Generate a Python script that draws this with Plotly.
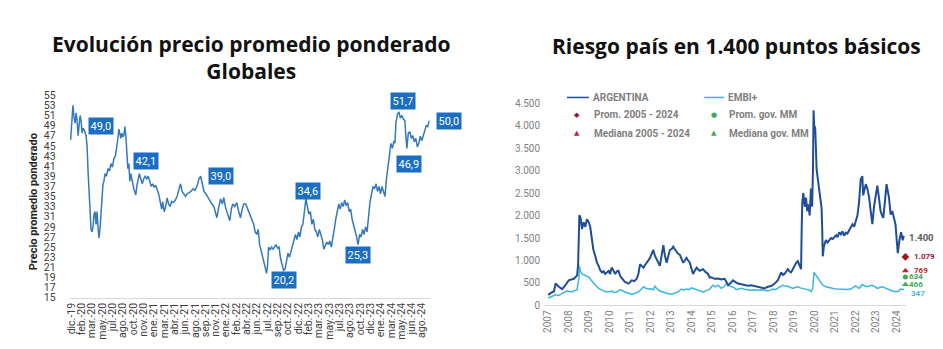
import plotly.graph_objects as go

# ---------------- LEFT CHART DATA (Globales, precio promedio ponderado) ----------------
left_tick_labels = ["dic.-19", "feb.-20", "mar.-20", "may.-20", "jul.-20", "ago.-20", "oct.-20",
                    "nov.-20", "ene.-21", "mar.-21", "abr.-21", "jun.-21", "ago.-21", "sep.-21",
                    "nov.-21", "ene.-22", "feb.-22", "abr.-22", "jun.-22", "jul.-22", "sep.-22",
                    "oct.-22", "dic.-22", "feb.-23", "mar.-23", "may.-23", "jul.-23", "ago.-23",
                    "oct.-23", "dic.-23", "ene.-24", "mar.-24", "may.-24", "jun.-24", "ago.-24"]

# observation index (trading-day like scale)
obs = [0, 1, 2.3, 3.5, 4.5, 5.5, 6.5, 7.5, 8.5, 9.5, 10.5, 11.5, 12.5, 14, 15.5, 16.5, 17.5, 18.5,
       19.5, 20.5, 21.5, 22.5, 23.5, 24.5, 25.5, 26.5, 27.5, 28.5, 29.5, 30.5, 31.5, 32.5, 33.5,
       34.5, 36, 37.5, 39, 40.5, 42, 43.5, 45, 46.5, 47.5, 48.5, 49.5, 50.5, 51.5, 52.5, 53.5,
       54.5, 55.5, 56.5, 57.5, 58.5, 59.5, 60.5, 61.5, 62.5, 63.5, 64.5, 65.5, 66.5, 67.5, 69,
       70.5, 72, 73.5, 75, 76.5, 78, 79.5, 81, 82.5, 84, 85.5, 87, 88.5, 90, 91.5, 92.5, 94, 95.5,
       97, 98.5, 100, 101.5, 103, 105, 107, 109, 110.5, 112, 114, 115.5, 117, 119, 121, 123, 125,
       127, 129, 130.7, 132, 134, 136, 138, 140, 142, 144, 145.5, 147, 148.5, 150.7, 152.5, 154,
       155.5, 157, 158.5, 160, 161.5, 163, 165, 167, 169, 170.7, 172.5, 174, 176, 178, 180, 182,
       184, 185.5, 187, 188.5, 190, 191.5, 193, 194.5, 196, 197, 198, 199, 200.5, 202, 203.5, 205,
       206.5, 208, 209.5, 211, 212.5, 214, 215.5, 217, 218.5, 220, 221.5, 223, 224.5, 226, 227.5,
       229, 230.5, 232, 233.5, 235, 236.5, 238, 239.5, 241, 242.5, 244, 245.5, 247, 248.5, 250,
       251.5, 253, 254.5, 256, 257.5, 259, 260.5, 262, 263.5, 265, 266.5, 268, 269.5, 271, 272.5,
       274, 275.5, 277, 278.5, 280, 281.5, 283, 284.5, 286, 287.5, 289, 290.5, 292, 293.5, 295,
       296.5, 298, 299.5, 301, 302.5, 304, 305.5, 307, 308.5, 310, 311.5, 313, 314.5, 316, 317.5,
       319, 320.5, 322, 323.5, 325, 326, 327, 328.5, 330, 331.5, 333, 334.5, 336, 337, 338, 339.5,
       341, 342.5, 344, 345.5, 347, 348.5, 350, 351.5, 353, 354.5, 356, 357.5, 359, 360.5]

price = [46.2, 50.0, 53.0, 50.5, 49.5, 51.5, 50.0, 47.0, 49.5, 51.0, 50.0, 47.5, 48.5, 48.0, 47.0,
         45.0, 40.0, 35.0, 30.0, 28.5, 28.0, 29.0, 31.5, 32.0, 29.5, 32.0, 29.0, 26.8, 28.5, 32.0,
         35.5, 37.5, 38.0, 39.5, 39.0, 40.5, 40.0, 41.5, 40.8, 42.5, 43.0, 44.8, 46.5, 48.3, 47.0,
         46.5, 47.5, 46.8, 47.0, 48.8, 47.0, 44.0, 40.5, 41.5, 38.0, 39.5, 38.0, 37.5, 36.5, 35.8,
         35.3, 37.0, 38.0, 39.5, 38.5, 37.5, 38.5, 39.0, 38.5, 39.0, 38.0, 37.0, 37.5, 36.8, 37.2,
         36.5, 35.5, 34.0, 32.5, 34.0, 32.0, 33.0, 34.7, 33.5, 33.0, 34.0, 33.8, 34.2, 35.0, 36.5,
         37.5, 36.0, 35.5, 35.0, 35.5, 35.8, 36.0, 36.5, 36.2, 37.0, 38.5, 39.0, 37.5, 36.0, 35.5,
         34.8, 34.0, 33.5, 33.0, 31.8, 30.8, 32.5, 34.5, 33.5, 34.8, 33.0, 32.2, 31.0, 30.2, 32.5,
         33.5, 33.0, 33.8, 32.0, 30.8, 32.5, 33.5, 33.5, 32.5, 31.8, 30.5, 29.5, 28.0, 27.5, 28.5,
         25.5, 24.3, 23.0, 21.8, 20.8, 19.8, 21.5, 25.0, 24.5, 25.0, 24.6, 25.2, 25.5, 24.8, 25.0,
         22.8, 21.5, 20.4, 20.6, 22.5, 23.8, 23.0, 24.0, 25.5, 26.5, 27.5, 26.5, 28.0, 27.0, 29.0,
         29.5, 32.0, 34.6, 33.0, 31.5, 32.0, 29.5, 30.5, 28.5, 28.0, 27.0, 28.5, 27.5, 26.5, 24.6,
         25.5, 26.0, 25.5, 26.2, 25.0, 26.5, 28.5, 30.5, 32.0, 33.5, 32.5, 33.8, 33.0, 34.3, 33.2,
         33.8, 32.0, 32.5, 30.5, 29.5, 28.0, 27.0, 25.5, 27.5, 27.0, 28.5, 27.5, 29.0, 28.0, 31.5,
         34.0, 35.5, 37.0, 36.5, 37.5, 36.0, 37.0, 35.5, 37.0, 36.0, 35.0, 38.5, 41.0, 42.5, 45.5,
         44.5, 46.0, 45.5, 49.5, 51.2, 51.7, 50.5, 51.0, 50.3, 50.0, 47.0, 44.5, 47.5, 47.8, 46.5,
         47.0, 45.8, 46.5, 44.8, 45.5, 46.9, 46.0, 47.0, 48.0, 49.0, 48.8, 50.0]

# highlighted values on the left chart
callout_text = ["49,0", "42,1", "39,0", "20,2", "34,6", "25,3", "51,7", "46,9", "50,0"]
callout_value = [49.0, 42.1, 39.0, 20.2, 34.6, 25.3, 51.7, 46.9, 50.0]
callout_obs = [30.7, 75.5, 151.5, 214.5, 238.5, 288.5, 334, 340, 360.5]
callout_shift = [(0, 0), (0, 0), (0, 0), (0, -9), (0, 8), (0, -9), (0, 11), (0, -28), (20, 0)]

# ---------------- RIGHT CHART DATA (Riesgo país) ----------------
arg_t = [2007.00, 2007.11, 2007.28, 2007.36, 2007.52, 2007.68, 2007.84, 2008.00, 2008.25, 2008.41,
         2008.46, 2008.52, 2008.58, 2008.65, 2008.73, 2008.81, 2008.89, 2008.98, 2009.05, 2009.12,
         2009.20, 2009.30, 2009.38, 2009.46, 2009.54, 2009.62, 2009.70, 2009.78, 2009.86, 2009.95,
         2010.02, 2010.10, 2010.18, 2010.27, 2010.35, 2010.43, 2010.52, 2010.60, 2010.68, 2010.75,
         2010.84, 2010.92, 2011.00, 2011.08, 2011.20, 2011.32, 2011.40, 2011.48, 2011.56, 2011.65,
         2011.73, 2011.81, 2011.89, 2011.97, 2012.05, 2012.13, 2012.21, 2012.29, 2012.37, 2012.45,
         2012.53, 2012.62, 2012.70, 2012.78, 2012.86, 2012.94, 2013.02, 2013.10, 2013.18, 2013.26,
         2013.34, 2013.42, 2013.50, 2013.59, 2013.67, 2013.75, 2013.83, 2013.91, 2013.99, 2014.07,
         2014.16, 2014.24, 2014.32, 2014.40, 2014.48, 2014.56, 2014.64, 2014.72, 2014.80, 2014.88,
         2014.96, 2015.12, 2015.29, 2015.45, 2015.61, 2015.70, 2015.78, 2015.90, 2016.02, 2016.14,
         2016.26, 2016.42, 2016.58, 2016.74, 2016.90, 2017.07, 2017.23, 2017.39, 2017.55, 2017.72,
         2017.88, 2018.04, 2018.20, 2018.37, 2018.45, 2018.53, 2018.61, 2018.69, 2018.77, 2018.85,
         2018.93, 2019.00, 2019.10, 2019.18, 2019.26, 2019.34, 2019.37, 2019.40, 2019.45, 2019.52,
         2019.58, 2019.64, 2019.70, 2019.76, 2019.82, 2019.88, 2019.92, 2019.95, 2019.98, 2020.03,
         2020.10, 2020.18, 2020.26, 2020.34, 2020.37, 2020.40, 2020.45, 2020.55, 2020.63, 2020.71,
         2020.80, 2020.88, 2020.95, 2021.05, 2021.12, 2021.20, 2021.28, 2021.36, 2021.44, 2021.52,
         2021.60, 2021.68, 2021.77, 2021.85, 2021.93, 2022.00, 2022.05, 2022.09, 2022.17, 2022.25,
         2022.33, 2022.37, 2022.45, 2022.50, 2022.58, 2022.66, 2022.74, 2022.82, 2022.90, 2022.98,
         2023.06, 2023.14, 2023.22, 2023.30, 2023.35, 2023.43, 2023.51, 2023.57, 2023.63, 2023.71,
         2023.79, 2023.87, 2023.95, 2024.00, 2024.06, 2024.14, 2024.22, 2024.30, 2024.35]
arg_v = [230, 272, 310, 486, 414, 364, 450, 557, 593, 664,
         907, 2010, 1950, 1700, 1850, 1750, 1920, 1850, 1750, 1500,
         1250, 1093, 950, 880, 780, 735, 760, 700, 740, 770,
         700, 842, 780, 700, 760, 770, 650, 593, 560, 521,
         500, 485, 520, 557, 540, 593, 700, 914, 880, 842,
         900, 950, 1000, 1057, 1150, 1236, 1100, 1021, 950, 880,
         1100, 1343, 1100, 950, 1100, 1236, 1250, 1307, 1250, 1200,
         1150, 1129, 1050, 950, 1000, 1057, 1000, 950, 820, 700,
         780, 842, 800, 770, 790, 807, 760, 735, 700, 620,
         628, 593, 600, 580, 593, 520, 450, 500, 557, 520,
         486, 470, 450, 440, 450, 430, 414, 400, 379, 414,
         430, 480, 557, 735, 680, 700, 760, 807, 760, 735,
         800, 880, 950, 986, 900, 807, 1700, 2300, 2500, 2200,
         2400, 2100, 2250, 2000, 2600, 2200, 3000, 4343, 4000, 3950,
         3021, 2736, 2400, 2164, 1736, 1093, 1300, 1457, 1400, 1440,
         1500, 1480, 1521, 1560, 1520, 1628, 1580, 1650, 1550, 1620,
         1600, 1664, 1720, 1807, 1750, 1850, 1950, 2000, 2300, 2807,
         2878, 2450, 2600, 2700, 2593, 2400, 2093, 1807, 2200, 2450,
         2664, 2400, 2093, 2000, 1950, 2300, 2700, 2550, 2400, 2021,
         2100, 1950, 1800, 1500, 1164, 1450, 1628, 1450, 1550, 1400]

embi_t = [2007.00, 2007.20, 2007.36, 2007.52, 2007.68, 2007.92, 2008.15, 2008.41, 2008.50, 2008.52,
          2008.58, 2008.65, 2008.81, 2008.98, 2009.10, 2009.22, 2009.34, 2009.46, 2009.62, 2009.78,
          2009.95, 2010.10, 2010.22, 2010.35, 2010.51, 2010.63, 2010.75, 2010.92, 2011.08, 2011.24,
          2011.40, 2011.52, 2011.65, 2011.77, 2011.89, 2012.01, 2012.13, 2012.21, 2012.29, 2012.45,
          2012.57, 2012.70, 2012.86, 2013.02, 2013.18, 2013.34, 2013.50, 2013.62, 2013.75, 2013.87,
          2013.99, 2014.12, 2014.24, 2014.40, 2014.56, 2014.72, 2014.88, 2015.04, 2015.16, 2015.29,
          2015.45, 2015.58, 2015.70, 2015.82, 2015.94, 2016.06, 2016.18, 2016.30, 2016.42, 2016.58,
          2016.74, 2016.90, 2017.07, 2017.23, 2017.39, 2017.55, 2017.72, 2017.84, 2017.96, 2018.08,
          2018.20, 2018.33, 2018.45, 2018.57, 2018.69, 2018.81, 2018.94, 2019.06, 2019.18, 2019.30,
          2019.42, 2019.55, 2019.67, 2019.75, 2019.83, 2019.91, 2019.97, 2020.03, 2020.08, 2020.16,
          2020.24, 2020.32, 2020.40, 2020.56, 2020.68, 2020.80, 2020.96, 2021.12, 2021.28, 2021.44,
          2021.60, 2021.77, 2021.90, 2022.00, 2022.08, 2022.17, 2022.25, 2022.33, 2022.45, 2022.58,
          2022.70, 2022.82, 2022.94, 2023.06, 2023.18, 2023.31, 2023.43, 2023.55, 2023.67, 2023.79,
          2023.92, 2024.04, 2024.12, 2024.20, 2024.30, 2024.35]
embi_v = [165, 200, 236, 220, 270, 321, 300, 350, 600, 880,
          750, 700, 664, 628, 560, 486, 430, 379, 340, 307,
          300, 321, 290, 300, 350, 320, 300, 270, 250, 270,
          300, 350, 414, 380, 364, 370, 350, 428, 380, 320,
          300, 270, 260, 250, 270, 300, 364, 340, 364, 350,
          393, 370, 350, 320, 300, 330, 364, 450, 414, 450,
          379, 420, 486, 440, 414, 400, 350, 370, 379, 360,
          350, 340, 350, 340, 350, 330, 321, 340, 364, 350,
          393, 420, 450, 430, 428, 400, 379, 400, 414, 390,
          379, 370, 364, 340, 307, 379, 735, 700, 664, 600,
          557, 500, 450, 414, 400, 379, 370, 364, 360, 350,
          355, 364, 400, 436, 410, 379, 420, 464, 430, 414,
          440, 450, 420, 379, 400, 414, 390, 364, 350, 321,
          310, 307, 330, 364, 350, 370]

ref_date = 2024.43
ref_names = ["Prom. 2005 - 2024", "Mediana 2005 - 2024", "Prom. gov. MM", "Mediana gov. MM"]
ref_values = [1079, 769, 634, 466]
arg_last_label = "1.400"
embi_last_label = "347"
years = list(range(2007, 2025))

# ---------------- STYLE ----------------
FONT = "Roboto, 'Open Sans', sans-serif"
TITLE_FONT = "'Open Sans', Roboto, sans-serif"
W, H = 943, 349
BOX_BLUE = "#1b6ec2"
LINE_BLUE = "#3579bd"
ARG_COLOR = "#1f4e96"
EMBI_COLOR = "#3ab4e2"
REF_COLORS = ["#a3141f", "#c0262d", "#3daa55", "#3daa55"]
REF_SYMBOLS = ["diamond", "triangle-up", "circle", "triangle-up"]
REF_SIZES = [6, 6, 5, 6]
REF_GLYPHS = ["◆", "▲", "●", "▲"]


def px(x):
    return x / W


def py(y):
    return 1 - y / H


fig = go.Figure()

# left line
fig.add_trace(go.Scatter(x=obs, y=price, mode="lines", line=dict(color=LINE_BLUE, width=1.5),
                         xaxis="x", yaxis="y", showlegend=False, hoverinfo="skip"))

# right lines
fig.add_trace(go.Scatter(x=embi_t, y=embi_v, mode="lines", line=dict(color=EMBI_COLOR, width=1.5),
                         xaxis="x2", yaxis="y2", showlegend=False, name="EMBI+"))
fig.add_trace(go.Scatter(x=arg_t, y=arg_v, mode="lines", line=dict(color=ARG_COLOR, width=2),
                         xaxis="x2", yaxis="y2", showlegend=False, name="ARGENTINA"))
# reference markers
for nm, v, c, s, sz in zip(ref_names, ref_values, REF_COLORS, REF_SYMBOLS, REF_SIZES):
    fig.add_trace(go.Scatter(x=[ref_date], y=[v], mode="markers", name=nm,
                             marker=dict(color=c, symbol=s, size=sz),
                             xaxis="x2", yaxis="y2", showlegend=False, cliponaxis=False))

# left tick positions (equally spaced labels)
left_tickvals = [0.7 + 10.37 * k for k in range(len(left_tick_labels))]

annotations = []
# titles
annotations.append(dict(text="<b>Evolución precio promedio ponderado<br>Globales</b>", x=px(248), y=py(54),
                        xref="paper", yref="paper", showarrow=False, xanchor="center", yanchor="middle",
                        font=dict(family=TITLE_FONT, size=21, color="#111111")))
annotations.append(dict(text="<b>Riesgo país en 1.400 puntos básicos</b>", x=px(735), y=py(42),
                        xref="paper", yref="paper", showarrow=False, xanchor="center", yanchor="middle",
                        font=dict(family=TITLE_FONT, size=21, color="#111111")))
# left y title
annotations.append(dict(text="<b>Precio promedio ponderado</b>", x=px(29), y=py(203), xref="paper",
                        yref="paper", showarrow=False, textangle=-90, xanchor="center", yanchor="middle",
                        font=dict(family=FONT, size=11, color="#262626")))
# callouts
for t, v, o, (dx, dy) in zip(callout_text, callout_value, callout_obs, callout_shift):
    annotations.append(dict(text=t, x=o, y=v, xref="x", yref="y", showarrow=False,
                            xshift=dx, yshift=dy, bgcolor=BOX_BLUE, borderpad=1.5,
                            font=dict(family=FONT, size=11, color="white")))

# end labels right chart
annotations.append(dict(text="<b>" + arg_last_label + "</b>", x=arg_t[-1], y=arg_v[-1], xref="x2", yref="y2",
                        showarrow=False, xanchor="left", xshift=3, yshift=5,
                        font=dict(family=FONT, size=9.5, color="#595959")))
lab_dx = [7, 7, 2, 2]
for v, c, dx in zip(ref_values, REF_COLORS, lab_dx):
    annotations.append(dict(text="<b>" + f"{v:,}".replace(",", ".") + "</b>", x=ref_date, y=v,
                            xref="x2", yref="y2", showarrow=False, xanchor="left", xshift=dx,
                            font=dict(family=FONT, size=8, color=c)))
annotations.append(dict(text="<b>" + embi_last_label + "</b>", x=embi_t[-1], y=embi_v[-1], xref="x2",
                        yref="y2", showarrow=False, xanchor="left", xshift=5, yshift=-5,
                        font=dict(family=FONT, size=8, color="#4db3e6")))

# manual legend
shapes = []
leg_rows = [95, 113, 132]
leg_cols = [(565, 587, 589, 575), (703, 723, 725, 712.5)]
series_names = ["ARGENTINA", "EMBI+"]
series_colors = [ARG_COLOR, EMBI_COLOR]
for (x0, x1, tx, mx), nm, col in zip(leg_cols, series_names, series_colors):
    shapes.append(dict(type="line", xref="paper", yref="paper", x0=px(x0), x1=px(x1),
                       y0=py(leg_rows[0]), y1=py(leg_rows[0]), line=dict(color=col, width=1.5)))
    annotations.append(dict(text="<b>" + nm + "</b>", x=px(tx), y=py(leg_rows[0]), xref="paper", yref="paper",
                            showarrow=False, xanchor="left", yanchor="middle",
                            font=dict(family=FONT, size=10, color="#7f7f7f")))
for i, (nm, col, g) in enumerate(zip(ref_names, REF_COLORS, REF_GLYPHS)):
    ci = 0 if i < 2 else 1
    ri = 1 + (i % 2)
    x0, x1, tx, mx = leg_cols[ci]
    annotations.append(dict(text=g, x=px(mx), y=py(leg_rows[ri]), xref="paper", yref="paper",
                            showarrow=False, xanchor="center", yanchor="middle",
                            font=dict(family="DejaVu Sans", size=7, color=col)))
    annotations.append(dict(text="<b>" + nm + "</b>", x=px(tx + 1), y=py(leg_rows[ri]), xref="paper",
                            yref="paper", showarrow=False, xanchor="left", yanchor="middle",
                            font=dict(family=FONT, size=10, color="#7f7f7f")))

fig.update_layout(
    width=W, height=H, margin=dict(l=0, r=0, t=0, b=0),
    paper_bgcolor="white", plot_bgcolor="white",
    separators=",.",
    font=dict(family=FONT),
    showlegend=False,
    xaxis=dict(domain=[px(65), px(427)], range=[-1, 361], tickvals=left_tickvals,
               ticktext=left_tick_labels, tickangle=-90, showgrid=False, zeroline=False,
               showline=True, linecolor="#d9d9d9", linewidth=1, ticks="",
               tickfont=dict(family=FONT, size=10.5, color="#404040"), anchor="y"),
    yaxis=dict(domain=[py(303), py(92.7)], range=[15, 55], tickvals=list(range(15, 56, 2)),
               showgrid=False, zeroline=False, showline=False, ticks="", ticklabelstandoff=13,
               tickfont=dict(family=FONT, size=10.5, color="#404040"), anchor="x"),
    xaxis2=dict(domain=[px(543), px(906)], range=[2006.85, 2024.47], tickvals=years,
                ticktext=[str(y) for y in years], tickangle=-90, showgrid=False, zeroline=False,
                showline=True, linecolor="#d9d9d9", linewidth=1, ticks="",
                tickfont=dict(family=FONT, size=10, color="#7f7f7f"), anchor="y2"),
    yaxis2=dict(domain=[py(311), py(101)], range=[0, 4500], dtick=500, tickformat=",d",
                showgrid=False, zeroline=False, showline=False, ticks="", ticklabelstandoff=4,
                tickfont=dict(family=FONT, size=10, color="#7f7f7f"), anchor="x2"),
    annotations=annotations, shapes=shapes,
)

fig.write_html("out.html")
